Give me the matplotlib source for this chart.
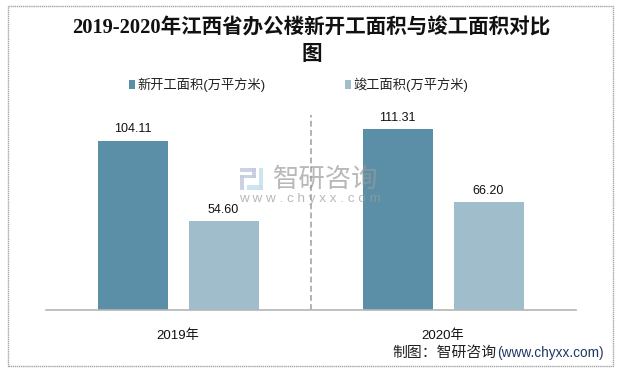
import matplotlib
matplotlib.use('Agg')
import matplotlib.pyplot as plt
from matplotlib.patches import Rectangle
import numpy as np

plt.rcParams['font.family'] = ['Liberation Sans', 'Noto Sans CJK SC']

# data
years = ['2019年', '2020年']
new_area = [104.11, 111.31]
done_area = [54.60, 66.20]
series_names = ['新开工面积(万平方米)', '竣工面积(万平方米)']

W, H = 619, 373
BLUE = '#5b8fa8'
LIGHT = '#9fbdcb'


def px(x):
    return x / W


def py(y):
    return 1 - y / H


def logo_block(x0, y0, x1, y1, color):
    # logo piece given in picture pixels
    fig.add_artist(Rectangle((px(x0), py(y1)), px(x1 - x0), (y1 - y0) / H, color=color, lw=0,
                             alpha=0.85))


fig = plt.figure(figsize=(W / 100, H / 100), dpi=100)

# outer frame of the picture
fig.add_artist(Rectangle((px(7.5), py(365.5)), px(605), 360 / H, fill=False,
                         ec='#a6a6a6', lw=1, ls=(0, (1, 0.5))))

ax = fig.add_axes([px(45.5), py(310), px(530), 195 / H])
x = np.arange(len(years))
bar_w = 70 / 265
offset = 45.5 / 265
bars1 = ax.bar(x - offset, new_area, bar_w, color=BLUE, label=series_names[0])
bars2 = ax.bar(x + offset, done_area, bar_w, color=LIGHT, label=series_names[1])
ax.set_xlim(-0.5, 1.5)
ax.set_ylim(0, 120)
ax.set_yticks([])
ax.set_xticks(x)
ax.set_xticklabels(years, fontsize=9.5, color='#111111')
ax.tick_params(axis='x', length=0, pad=14)
for s in ['top', 'left', 'right']:
    ax.spines[s].set_visible(False)
ax.spines['bottom'].set_color('#b5b5b5')
ax.spines['bottom'].set_linewidth(1.2)
ax.axvline(0.5, color='#a6a6a6', lw=1.2, ls=(0, (3.5, 2)))

for bars in (bars1, bars2):
    for b in bars:
        ax.annotate(f'{b.get_height():.2f}', (b.get_x() + b.get_width() / 2, b.get_height()),
                    xytext=(0, 4), textcoords='offset points', ha='center', va='bottom',
                    fontsize=9, color='#111111')

fig.legend(handles=[bars1, bars2], loc='center', bbox_to_anchor=(px(298.5), py(85)), ncol=2,
           frameon=False, fontsize=9.5, handlelength=0.5, handleheight=0.75,
           handletextpad=0.15, columnspacing=6.0, labelcolor='#222222')

fig.text(px(311.5), py(28), '2019-2020年江西省办公楼新开工面积与竣工面积对比', ha='center', va='center',
         fontsize=14.8, fontweight='bold', color='#111111',
         family=['Liberation Serif', 'Noto Sans CJK SC'])
fig.text(px(311.5), py(54), '图', ha='center', va='center', fontsize=14.8, fontweight='bold',
         color='#111111', family=['Noto Sans CJK SC'])

# watermark
fig.text(px(326), py(180), '智研咨询', ha='center', va='center', fontsize=19, color='#9a9a9a',
         alpha=0.7, zorder=5)
fig.text(px(310), py(199), 'w w w . c h y x x . c o m', ha='center', va='center', fontsize=9.7,
         color='#9a9a9a', alpha=0.7, zorder=5)
logo_block(240, 168, 256, 172, '#c3cbe0')
logo_block(252, 168, 256, 178, '#c3cbe0')
logo_block(240, 175, 256, 178, '#c3cbe0')
logo_block(240, 175, 244, 190, '#c3cbe0')
logo_block(259, 168, 263, 190, '#c5e0f2')
logo_block(247, 185, 263, 190, '#c5e0f2')

# source line
fig.text(px(392), py(353), '制图：智研咨询', ha='left', va='center', fontsize=10.7, color='#222222')
fig.text(px(497), py(353), '(www.chyxx.com)', ha='left', va='center', fontsize=9.8, color='#1f3864')

fig.savefig('out.png', dpi=100)
